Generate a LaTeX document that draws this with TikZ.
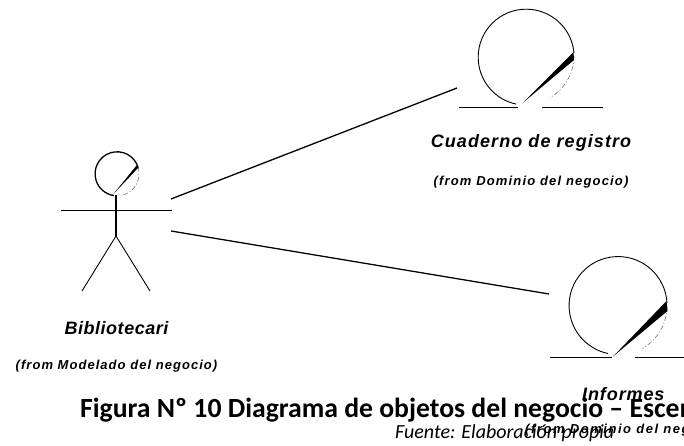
\documentclass[tikz,border=0pt]{standalone}
\usepackage{fontspec}
\setmainfont{Liberation Sans}
\newfontfamily\capfont{Carlito}
\tikzset{
  ln/.style={draw=black,line width=1.3pt},
  thinln/.style={draw=black,line width=0.9pt},
  faint/.style={draw=black!55,line width=0.6pt,dash pattern=on 5pt off 2pt on 1pt off 2pt},
  namelabel/.style={inner sep=0pt,anchor=center,font=\fontsize{18}{20}\selectfont\bfseries\itshape},
  fromlabel/.style={inner sep=0pt,anchor=center,font=\fontsize{13}{15}\selectfont\bfseries\itshape},
  captext/.style={inner sep=0pt,anchor=west,font=\capfont\fontsize{27.7}{30}\selectfont\bfseries},
  srctext/.style={inner sep=0pt,anchor=west,font=\capfont\fontsize{20}{23}\selectfont\itshape},
}
\begin{document}
\begin{tikzpicture}[x=1pt,y=-1pt]
\useasboundingbox (0,0) rectangle (684,446);
\begin{scope}
\clip (0,0) rectangle (684,446);
% actor
\draw[ln] (138,167) arc[start angle=-18,end angle=-262,radius=22];
\draw[faint] (138,167) arc[start angle=-18,end angle=80,radius=22];
\fill[black] (113,194.5) -- (136.5,165.5) -- (138.5,167.5) -- cycle;
\coordinate (neck) at (116,195);
\coordinate (hip) at (116,236);
\coordinate (armL) at (61,210);
\coordinate (armR) at (172,210);
\coordinate (footL) at (82,291);
\coordinate (footR) at (150,291);
\coordinate (actorA) at (171,199);
\coordinate (actorB) at (171,231);
\draw[ln] (neck) -- (hip);
\draw[thinln] (armL) -- (armR);
\draw[thinln] (hip) -- (footL);
\draw[thinln] (hip) -- (footR);
% business object 1
\draw[thinln] (574,53) arc[start angle=-5,end angle=-258,radius=48];
\draw[faint] (574,56) arc[start angle=0,end angle=60,radius=48];
\fill[black] (522,103.5) -- (573.5,52) -- (574,60) -- cycle;
\coordinate (cuadL) at (459,107);
\coordinate (cuadM) at (518,107);
\coordinate (cuadN) at (542,107);
\coordinate (cuadR) at (603,107);
\coordinate (cuadA) at (457,88);
\draw[thinln] (cuadL) -- (cuadM);
\draw[thinln] (cuadN) -- (cuadR);
% business object 2
\draw[thinln] (667,303) arc[start angle=-3,end angle=-258,radius=49];
\draw[faint] (667,306) arc[start angle=0,end angle=60,radius=49];
\fill[black] (613,356.5) -- (666.5,301) -- (667.5,311) -- cycle;
\coordinate (infL) at (550,357);
\coordinate (infM) at (612,357);
\coordinate (infN) at (635,357);
\coordinate (infR) at (684,357);
\coordinate (infA) at (549,294);
\draw[thinln] (infL) -- (infM);
\draw[thinln] (infN) -- (infR);
% connectors
\draw[ln] (actorA) -- (cuadA);
\draw[ln] (actorB) -- (infA);
% labels
\node[namelabel] (n1) at (116.5,328) {\addfontfeature{LetterSpace=3}Bibliotecari};
\node[fromlabel] (n2) at (116.5,366) {\addfontfeature{LetterSpace=8}(from Modelado del negocio)};
\node[namelabel] (n3) at (531,143) {\addfontfeature{LetterSpace=6}Cuaderno de registro};
\node[fromlabel] (n4) at (531,182) {\addfontfeature{LetterSpace=9}(from Dominio del negocio)};
\node[namelabel,anchor=west] (n5) at (582,394) {\addfontfeature{LetterSpace=5}Informes};
\node[fromlabel,anchor=west] (n6) at (525,430) {\addfontfeature{LetterSpace=12}(from Dominio del neg};
\node[captext] (c1) at (80,410) {Figura Nº 10 Diagrama de objetos del negocio – Escen};
\node[srctext] (c2) at (395,433) {Fuente: Elaboración propia};
\end{scope}
\end{tikzpicture}
\end{document}
